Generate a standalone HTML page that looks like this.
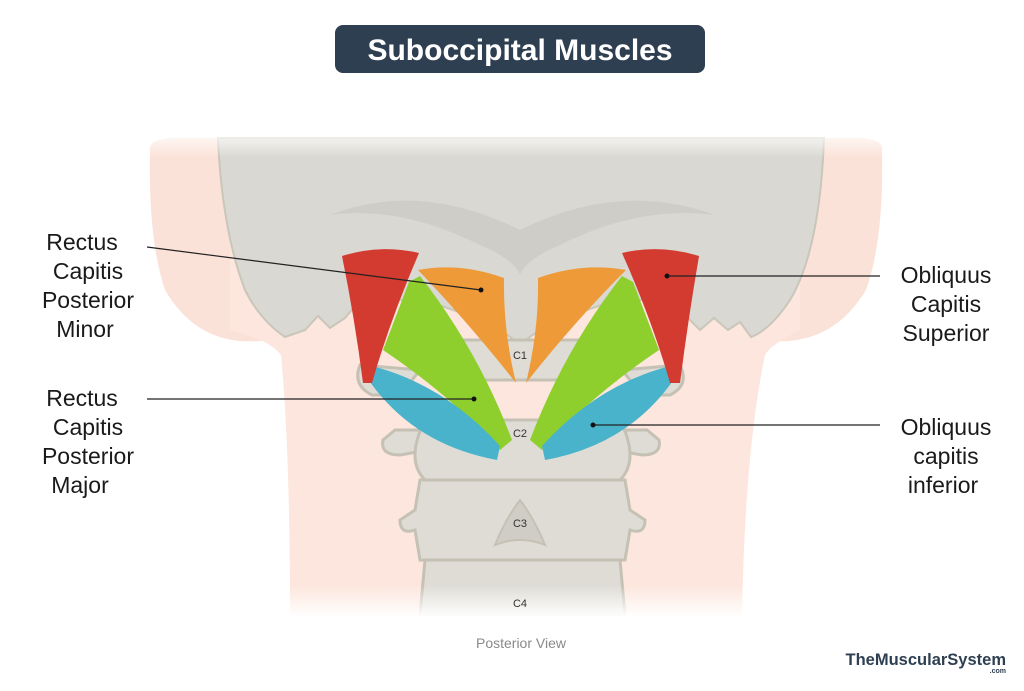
<!DOCTYPE html>
<html><head><meta charset="utf-8"><style>
html,body{margin:0;padding:0;background:#fff;}
body{width:1024px;height:691px;overflow:hidden;position:relative;font-family:"Liberation Sans",sans-serif;}
svg{position:absolute;left:0;top:0;}
</style></head><body>
<svg width="1024" height="691" viewBox="0 0 1024 691" xmlns="http://www.w3.org/2000/svg">
<defs>
<linearGradient id="fadeTop" x1="0" y1="0" x2="0" y2="1">
<stop offset="0" stop-color="#fff" stop-opacity="1"/><stop offset="1" stop-color="#fff" stop-opacity="0"/>
</linearGradient>
<linearGradient id="fadeBot" x1="0" y1="0" x2="0" y2="1">
<stop offset="0" stop-color="#fff" stop-opacity="0"/><stop offset="1" stop-color="#fff" stop-opacity="1"/>
</linearGradient>
</defs>
<path d="M150,150 Q148,140 170,138 L268,138 L268,340 Q200,350 165,290 Q148,240 150,150 Z" fill="#fbe2d8"/>
<path d="M882,150 Q884,140 862,138 L760,138 L760,340 Q830,350 866,290 Q884,240 882,150 Z" fill="#fbe2d8"/>
<path d="M230,138 L800,138 L800,330 Q770,345 765,355 Q745,450 742,615 L290,615 Q290,450 281,355 Q270,340 230,330 Z" fill="#fce6dd"/>
<path d="M218,138 L824,138 Q820,250 790,300 Q770,330 751,337 L740,322 L728,330 L714,318 L700,330 L685,315 L665,300 L620,300 Q580,310 540,330 Q525,340 520,345 Q515,340 500,330 Q460,310 420,300 L360,300 L345,318 L330,328 L318,316 L305,330 L285,337 Q260,320 245,290 Q222,230 218,138 Z" fill="#d9d8d2" stroke="#c9c6ba" stroke-width="2"/>
<path d="M330,215 Q420,180 520,230 Q620,180 715,215 Q640,205 560,245 Q525,260 520,275 Q515,260 480,245 Q400,205 330,215 Z" fill="#cfcdc7"/>
<g fill="#dedcd5" stroke="#c5c1b4" stroke-width="3">
<path d="M360,365 Q352,385 372,395 L400,395 L420,370 Z"/>
<path d="M680,365 Q690,385 670,395 L642,395 L622,370 Z"/>
<path d="M440,340 L600,340 L615,380 L430,380 Z"/>
<path d="M383,440 Q380,455 400,455 L440,448 L440,430 L395,430 Z"/>
<path d="M659,440 Q662,455 642,455 L602,448 L602,430 L647,430 Z"/>
<path d="M425,420 L620,420 Q640,460 620,480 L425,480 Q405,460 425,420 Z"/>
<path d="M420,480 L625,480 L630,510 L645,520 Q645,535 630,530 L625,560 L420,560 L415,530 Q400,535 400,520 L415,510 Z"/>
<path d="M425,560 L620,560 L625,615 L420,615 Z"/>
</g>
<path d="M520,500 Q505,520 495,545 Q520,535 545,545 Q535,520 520,500 Z" fill="#cfcdc6" stroke="#c5c1b4" stroke-width="2"/>
<rect x="140" y="128" width="760" height="30" fill="url(#fadeTop)"/>
<rect x="270" y="585" width="500" height="32" fill="url(#fadeBot)"/>
<!-- muscles left -->
<path d="M409,282 L420,276 Q478,350 512,440 L500,450 Q450,395 383,350 Z" fill="#8ecf2e"/>
<path d="M372,366 Q445,385 500,446 L497,460 Q415,445 370,382 Z" fill="#4ab3cc"/>
<path d="M418,270 Q460,262 504,278 Q503,330 516,383 Q468,322 418,270 Z" fill="#ee9a38"/>
<path d="M342,256 Q380,244 419,253 Q390,320 372,383 L363,383 Q355,320 342,256 Z" fill="#d33a30"/>
<!-- muscles right -->
<path d="M633,282 L622,276 Q564,350 530,440 L542,450 Q592,395 659,350 Z" fill="#8ecf2e"/>
<path d="M670,366 Q597,385 542,446 L545,460 Q627,445 672,382 Z" fill="#4ab3cc"/>
<path d="M626,270 Q582,262 538,278 Q539,330 526,383 Q574,322 626,270 Z" fill="#ee9a38"/>
<path d="M699,256 Q660,244 622,253 Q652,320 670,383 L680,383 Q688,320 699,256 Z" fill="#d33a30"/>
<g font-family="Liberation Sans, sans-serif" font-size="11" fill="#333" text-anchor="middle">
<text x="520" y="359">C1</text><text x="520" y="437">C2</text><text x="520" y="527">C3</text><text x="520" y="607">C4</text>
</g>
<g stroke="#222" stroke-width="1.2">
<line x1="147" y1="247" x2="481" y2="290"/>
<line x1="147" y1="399" x2="474" y2="399"/>
<line x1="667" y1="276" x2="880" y2="276"/>
<line x1="593" y1="425" x2="880" y2="425"/>
</g>
<g fill="#111"><circle cx="481" cy="290" r="2.5"/><circle cx="474" cy="399" r="2.5"/><circle cx="667" cy="276" r="2.5"/><circle cx="593" cy="425" r="2.5"/></g>
<g font-family="Liberation Sans, sans-serif" font-size="23" fill="#1a1a1a" text-anchor="middle">
<text x="82" y="250">Rectus</text><text x="88" y="279">Capitis</text><text x="88" y="308">Posterior</text><text x="85" y="337">Minor</text>
<text x="82" y="406">Rectus</text><text x="88" y="435">Capitis</text><text x="88" y="464">Posterior</text><text x="80" y="493">Major</text>
<text x="946" y="283">Obliquus</text><text x="946" y="312">Capitis</text><text x="946" y="341">Superior</text>
<text x="946" y="435">Obliquus</text><text x="946" y="464">capitis</text><text x="943" y="493">inferior</text>
</g>
<rect x="335" y="25" width="370" height="48" rx="8" fill="#2f3f52"/>
<text x="520" y="60" font-family="Liberation Sans, sans-serif" font-size="30" font-weight="bold" fill="#fff" text-anchor="middle">Suboccipital Muscles</text>
<text x="521" y="648" font-family="Liberation Sans, sans-serif" font-size="14" fill="#8a8a8a" text-anchor="middle">Posterior View</text>
<text x="1006" y="665" font-family="Liberation Sans, sans-serif" font-size="16.5" font-weight="bold" fill="#2f3f52" text-anchor="end">TheMuscularSystem</text>
<text x="1006" y="673" font-family="Liberation Sans, sans-serif" font-size="7" font-weight="bold" fill="#2f3f52" text-anchor="end">.com</text>
</svg>
</body></html>
